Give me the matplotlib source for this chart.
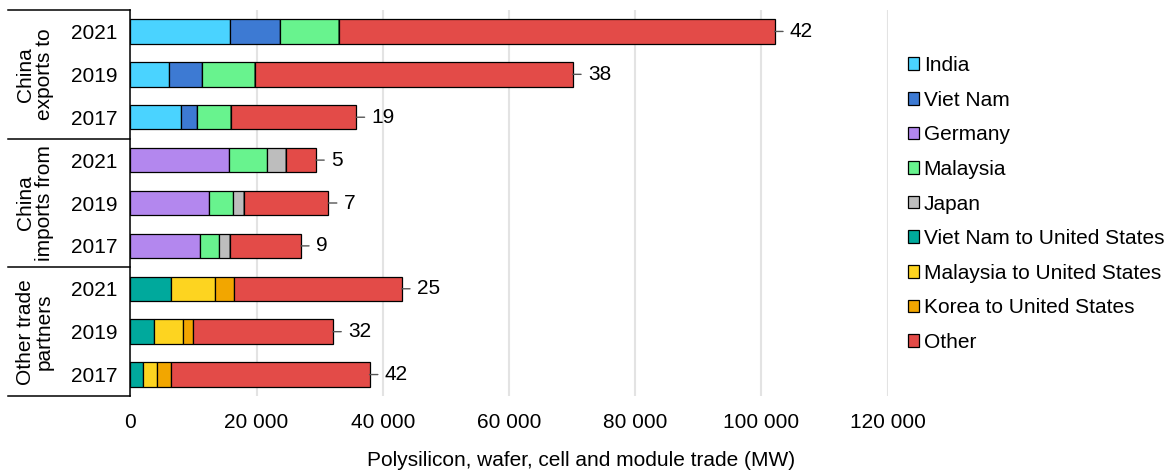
import matplotlib
matplotlib.use("Agg")
import matplotlib.pyplot as plt
from matplotlib.patches import Patch
from matplotlib.ticker import FuncFormatter

plt.rcParams["font.family"] = ["Liberation Sans", "DejaVu Sans"]

# rows top to bottom
years = ["2021", "2019", "2017", "2021", "2019", "2017", "2021", "2019", "2017"]
groups = ["China\nexports to", "China\nimports from", "Other trade\npartners"]

# MW, one value per row
india = [15800, 6200, 8100, 0, 0, 0, 0, 0, 0]
viet_nam = [7900, 5100, 2500, 0, 0, 0, 0, 0, 0]
germany = [0, 0, 0, 15700, 12400, 11100, 0, 0, 0]
malaysia = [9400, 8400, 5400, 6000, 3800, 3000, 0, 0, 0]
japan = [0, 0, 0, 2900, 1800, 1700, 0, 0, 0]
vn_to_us = [0, 0, 0, 0, 0, 0, 6500, 3700, 2000]
my_to_us = [0, 0, 0, 0, 0, 0, 6900, 4700, 2200]
kr_to_us = [0, 0, 0, 0, 0, 0, 3100, 1600, 2300]
other = [69000, 50400, 19800, 4800, 13400, 11200, 26500, 22100, 31400]
end_labels = ["42", "38", "19", "5", "7", "9", "25", "32", "42"]

series = [
    ("India", india, "#4AD3FF"),
    ("Viet Nam", viet_nam, "#3D7AD3"),
    ("Germany", germany, "#B387EE"),
    ("Malaysia", malaysia, "#68F38E"),
    ("Japan", japan, "#BDBDBD"),
    ("Viet Nam to United States", vn_to_us, "#00A99C"),
    ("Malaysia to United States", my_to_us, "#FDD420"),
    ("Korea to United States", kr_to_us, "#F2A600"),
    ("Other", other, "#E34B48"),
]

FS = 15

fig = plt.figure(figsize=(11.74, 4.73), dpi=100)
ax = fig.add_axes([130.3 / 1174, 1 - 396 / 473, (887.7 - 130.3) / 1174, 386 / 473])

ypos = list(range(len(years)))
left = [0] * len(years)
for name, vals, color in series:
    ax.barh(ypos, vals, left=left, height=0.57, color=color,
            edgecolor="black", linewidth=0.9, zorder=3)
    left = [l + v for l, v in zip(left, vals)]

# totals + end labels with a small dash
for y, total, lab in zip(ypos, left, end_labels):
    ax.annotate(lab, xy=(total, y), xytext=(11, 0), textcoords="offset points",
                ha="left", va="center", fontsize=FS,
                arrowprops=dict(arrowstyle="-", color="#555555", lw=1.0,
                                shrinkA=3, shrinkB=0))

ax.set_xlim(0, 120000)
ax.set_ylim(len(years) - 0.5, -0.5)
ax.set_xticks(range(0, 120001, 20000))
ax.xaxis.set_major_formatter(FuncFormatter(lambda v, p: f"{int(v):,}".replace(",", " ")))
ax.set_yticks(ypos)
ax.set_yticklabels(years)
ax.tick_params(axis="both", length=0, labelsize=FS)
ax.tick_params(axis="x", pad=12)
ax.tick_params(axis="y", pad=9.5)
ax.grid(axis="x", color="#E3E3E3", linewidth=1.5, zorder=0)
ax.set_axisbelow(True)
for s in ["top", "right", "bottom"]:
    ax.spines[s].set_visible(False)
ax.spines["left"].set_linewidth(1.1)
ax.set_xlabel("Polysilicon, wafer, cell and module trade (MW)", fontsize=FS,
              labelpad=14, x=0.595)

# group label column: separator lines and rotated labels
trans = ax.get_yaxis_transform()
for yb in [-0.5, 2.5, 5.5, 8.5]:
    ax.plot([-0.161, 0], [yb, yb], color="black", lw=1.1, transform=trans, clip_on=False)
for i, g in enumerate(groups):
    ax.text(-0.126, 3 * i + 1, g, rotation=90, ha="center", va="center",
            fontsize=FS, transform=trans, linespacing=1.0)

handles = [Patch(facecolor=c, edgecolor="black", linewidth=0.9, label=n) for n, _, c in series]
fig.legend(handles=handles, loc="center left", bbox_to_anchor=(908 / 1174, 1 - 204 / 473),
           frameon=False, fontsize=FS, handlelength=0.55, handleheight=0.55,
           handletextpad=0.2, labelspacing=0.75, borderpad=0, borderaxespad=0)

fig.savefig("out.png", dpi=100)
